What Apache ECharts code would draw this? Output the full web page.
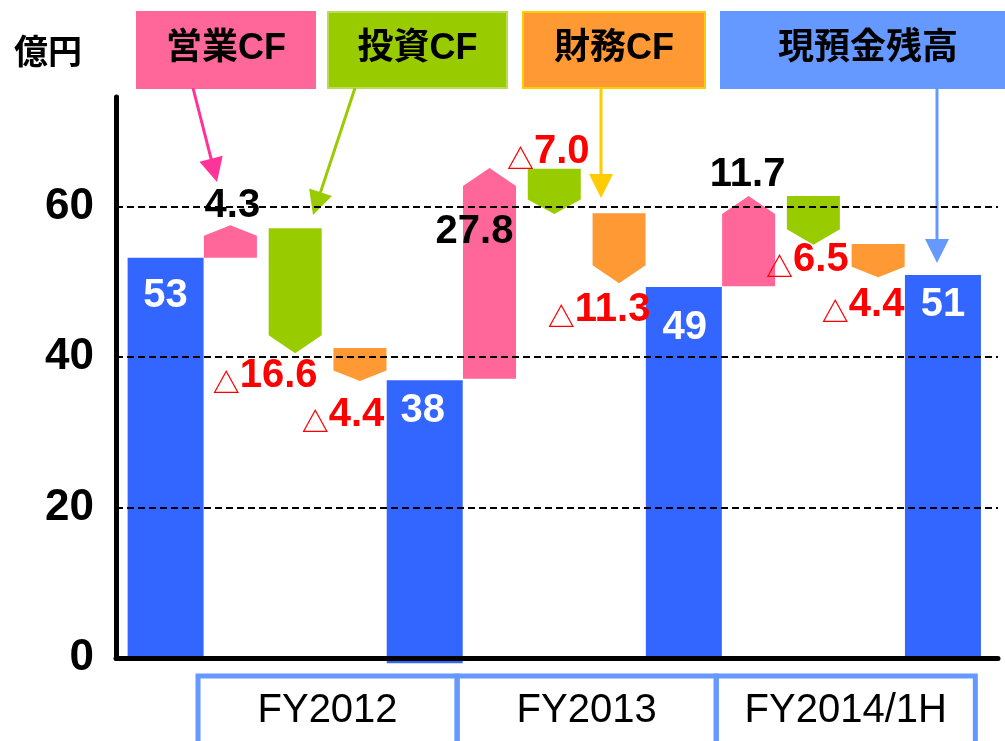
<!DOCTYPE html>
<html>
<head>
<meta charset="utf-8">
<script src="https://cdn.jsdelivr.net/npm/echarts@6/dist/echarts.min.js"></script>
<style>
html, body { margin: 0; padding: 0; background: #fff; }
#main { width: 1005px; height: 741px; }
</style>
</head>
<body>
<div id="main"></div>
<script>
// kind of each bar: total = 現預金残高, op = 営業CF, inv = 投資CF, fin = 財務CF
var barKind = ['total', 'op', 'inv', 'fin', 'total', 'op', 'inv', 'fin', 'total', 'op', 'inv', 'fin', 'total'];
// where each bar starts / ends, as drawn (億円)
var barFrom = [0, 53.2, 57.1, 41.2, -0.7, 37.1, 65.0, 59.1, 0, 49.4, 61.4, 55.0, 0];
var barTo = [53.2, 57.5, 40.5, 36.8, 36.9, 65.1, 59.0, 49.8, 49.3, 61.4, 54.9, 50.6, 50.9];
// value printed next to each bar
var barLabel = [53, 4.3, -16.6, -4.4, 38, 27.8, -7.0, -11.3, 49, 11.7, -6.5, -4.4, 51];

var periods = ['FY2012', 'FY2013', 'FY2014/1H'];
var periodFirst = [1, 5, 9];
var periodLast = [4, 8, 12];

var legendKinds = ['op', 'inv', 'fin', 'total'];
var legendNames = ['営業CF', '投資CF', '財務CF', '現預金残高'];
var yTicks = [0, 20, 40, 60];
var unitLabel = '億円';

// ---- styles ----
var kindColor = { total: '#3366ff', op: '#ff6699', inv: '#99cc00', fin: '#ff9933' };
var boxColor = { total: '#6699ff', op: '#ff6699', inv: '#99cc00', fin: '#ff9933' };
var boxBorder = { total: '#6699ff', op: '#ff6699', inv: '#bbdd55', fin: '#ffcc00' };
var arrowColor = { total: '#6699ff', op: '#ff3399', inv: '#99cc00', fin: '#ffcc00' };
// legend box [x, width] and arrow [x1, y1, x2, y2]
var boxPos = { op: [137, 178], inv: [328, 179], fin: [523, 182], total: [721, 290] };
var arrowPos = {
  op: [193, 88, 217, 182],
  inv: [355, 88, 313, 215],
  fin: [601, 88, 601, 198],
  total: [937, 88, 937, 263]
};
// label offset from bar centre / bar end, px
var labelOffset = [[0, 38], [2, -19], [-30, 23], [-17, 34], [-2, 31], [-15, 64], [-6, -62],
  [-20, 27], [1, 41], [-1, -21], [-6, 15], [-15, 28], [0, 30]];

var LATIN = '"Liberation Sans", Arial, sans-serif';
var CJK = '"Liberation Sans", "Noto Sans CJK JP", sans-serif';
var TRI = '"Noto Sans CJK JP", sans-serif';

function labelText(v, kind) {
  if (v < 0) return '{t|△}{v|' + Math.abs(v).toFixed(1) + '}';
  return kind === 'total' ? String(v) : v.toFixed(1);
}

function renderBar(params, api) {
  var i = params.dataIndex;
  var kind = barKind[i];
  var pFrom = api.coord([i, barFrom[i]]);
  var pTo = api.coord([i, barTo[i]]);
  var cx = pFrom[0];
  var w = kind === 'total' ? 76 : 53;
  var x0 = cx - w / 2, x1 = cx + w / 2;
  var shapeEl;
  if (kind === 'total') {
    shapeEl = {
      type: 'rect',
      shape: { x: x0, y: pTo[1], width: w, height: pFrom[1] - pTo[1] },
      style: { fill: kindColor[kind] }
    };
  } else {
    var h = Math.min(18, Math.abs(pFrom[1] - pTo[1]) * 0.32);
    var s = pTo[1] < pFrom[1] ? h : -h;
    shapeEl = {
      type: 'polygon',
      shape: { points: [[x0, pFrom[1]], [x1, pFrom[1]], [x1, pTo[1] + s], [cx, pTo[1]], [x0, pTo[1] + s]] },
      style: { fill: kindColor[kind] }
    };
  }
  var v = barLabel[i];
  var col = kind === 'total' ? '#ffffff' : (v < 0 ? '#ff0000' : '#000000');
  var off = labelOffset[i];
  var textEl = {
    type: 'text',
    x: cx + off[0],
    y: pTo[1] + off[1],
    z2: 10,
    style: {
      text: labelText(v, kind),
      fill: col,
      font: 'bold 40px ' + LATIN,
      align: 'center',
      verticalAlign: 'middle',
      rich: {
        t: { fontSize: 27, fontFamily: TRI, fontWeight: 'bold', fill: col, verticalAlign: 'bottom', lineHeight: 30 },
        v: { fontSize: 40, fontFamily: LATIN, fontWeight: 'bold', fill: col, lineHeight: 40 }
      }
    }
  };
  return { type: 'group', children: [shapeEl, textEl] };
}

function renderPeriod(params, api) {
  var k = params.dataIndex;
  var a = api.coord([periodFirst[k] - 0.5, 0]);
  var b = api.coord([periodLast[k] + 0.5, 0]);
  return {
    type: 'group',
    children: [
      { type: 'rect', shape: { x: a[0], y: a[1] + 18, width: b[0] - a[0], height: 100 },
        style: { fill: 'none', stroke: '#6699ff', lineWidth: 5 } },
      { type: 'text', x: (a[0] + b[0]) / 2, y: a[1] + 53,
        style: { text: periods[k], fill: '#000', font: '40px ' + LATIN, align: 'center', verticalAlign: 'middle' } }
    ]
  };
}

function arrowEls(p, color) {
  var dx = p[2] - p[0], dy = p[3] - p[1];
  var len = Math.sqrt(dx * dx + dy * dy);
  var ux = dx / len, uy = dy / len;
  var hl = 24, hw = 12;
  var bx = p[2] - ux * hl, by = p[3] - uy * hl;
  return [
    { type: 'line', shape: { x1: p[0], y1: p[1], x2: bx + ux * 2, y2: by + uy * 2 },
      style: { stroke: color, lineWidth: 3 } },
    { type: 'polygon', shape: { points: [[p[2], p[3]], [bx - uy * hw, by + ux * hw], [bx + uy * hw, by - ux * hw]] },
      style: { fill: color } }
  ];
}

var graphics = [
  { type: 'text', left: 14, top: 38,
    style: { text: unitLabel, fill: '#000', font: 'bold 34px ' + CJK } }
];
legendKinds.forEach(function (k, j) {
  var bp = boxPos[k];
  graphics.push({
    type: 'rect', shape: { x: bp[0], y: 12, width: bp[1], height: 76 },
    style: { fill: boxColor[k], stroke: boxBorder[k], lineWidth: 2 }
  });
  graphics.push({
    type: 'text', x: bp[0] + (k === 'total' ? 147 : bp[1] / 2), y: 49,
    style: { text: legendNames[j], fill: '#000', font: 'bold 36px ' + CJK, align: 'center', verticalAlign: 'middle' }
  });
  graphics = graphics.concat(arrowEls(arrowPos[k], arrowColor[k]));
});

var chart = echarts.init(document.getElementById('main'));
chart.setOption({
  animation: false,
  backgroundColor: '#fff',
  grid: { left: 116, right: 7, top: 97, bottom: 83, outerBoundsMode: 'none' },
  xAxis: {
    type: 'value', min: -0.766, max: 12.85, z: 5,
    axisLine: { show: true, onZero: false, lineStyle: { color: '#000', width: 5 } },
    axisTick: { show: false }, axisLabel: { show: false }, splitLine: { show: false }
  },
  yAxis: {
    type: 'value', min: 0, max: 74.55, interval: 20, z: 5,
    axisLine: { show: true, onZero: false, lineStyle: { color: '#000', width: 5 } },
    axisTick: { show: false },
    splitLine: { show: false },
    axisLabel: {
      margin: 22, color: '#000', fontSize: 44, fontWeight: 'bold', fontFamily: LATIN,
      showMaxLabel: false,
      formatter: function (v) { return yTicks.indexOf(v) >= 0 ? String(v) : ''; }
    }
  },
  graphic: graphics,
  series: [
    {
      type: 'custom',
      clip: false,
      renderItem: renderBar,
      encode: { x: 0, y: [1, 2] },
      data: barKind.map(function (k, i) { return [i, barFrom[i], barTo[i]]; })
    },
    {
      type: 'custom',
      clip: false,
      renderItem: renderPeriod,
      encode: { x: [0, 1], y: 2 },
      data: periods.map(function (p, k) { return [periodFirst[k], periodLast[k], 0]; })
    },
    {
      type: 'line',
      z: 6,
      data: [],
      markLine: {
        silent: true,
        symbol: ['none', 'none'],
        label: { show: false },
        lineStyle: { color: '#000', type: [7, 4], width: 2 },
        data: yTicks.filter(function (v) { return v > 0; }).map(function (v) { return { yAxis: v }; })
      }
    }
  ]
});
</script>
</body>
</html>
